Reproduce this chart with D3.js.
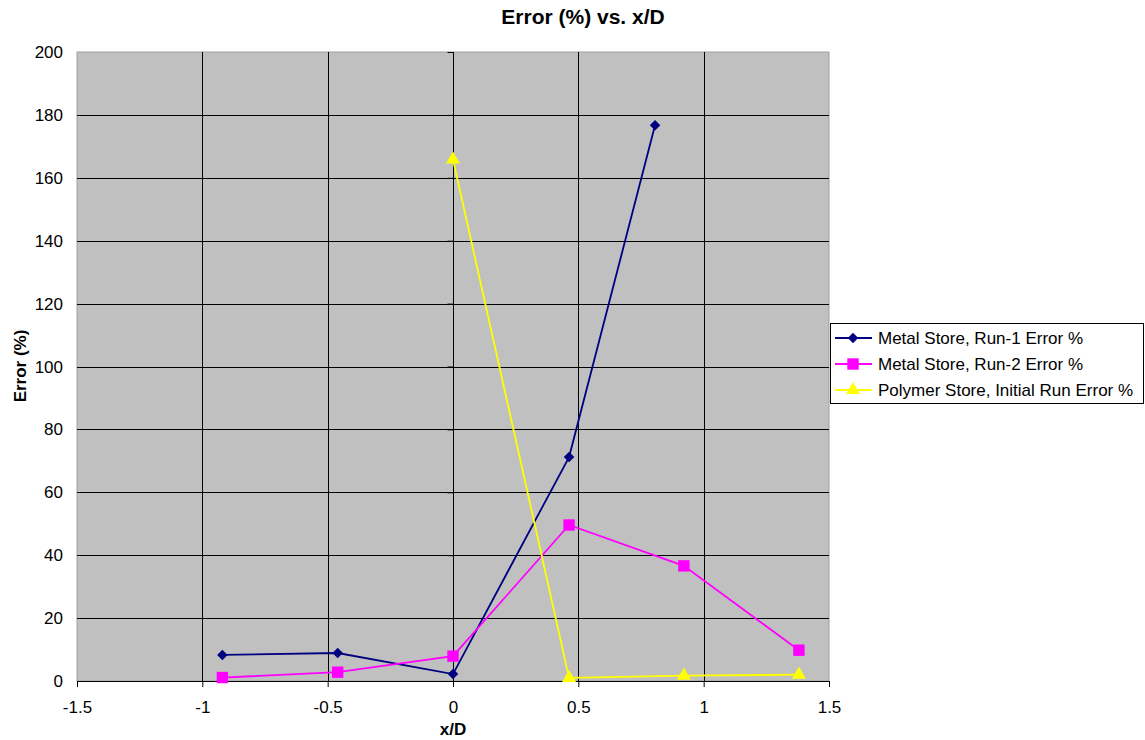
<!DOCTYPE html>
<html><head><meta charset="utf-8">
<script src="https://cdn.jsdelivr.net/npm/d3@7"></script>
<style>body{margin:0;background:#fff;} svg text{font-family:"Liberation Sans",Arial,sans-serif;}</style>
</head><body><svg id="c" width="1145" height="740"></svg>
<script>
const xTicks = [-1.5, -1, -0.5, 0, 0.5, 1, 1.5];
const yTicks = [0, 20, 40, 60, 80, 100, 120, 140, 160, 180, 200];
const run1X = [-0.92, -0.46, 0, 0.463, 0.806];
const run1Y = [8.3, 8.9, 2.2, 71.2, 176.7];
const run2X = [-0.92, -0.46, 0, 0.463, 0.921, 1.38];
const run2Y = [1.1, 2.8, 7.9, 49.6, 36.6, 9.8];
const polyX = [0, 0.463, 0.921, 1.38];
const polyY = [165.8, 1.0, 1.7, 2.0];
const seriesNames = ["Metal Store, Run-1 Error %", "Metal Store, Run-2 Error %", "Polymer Store, Initial Run Error %"];

const svg = d3.select("#c");
const L = 77, R = 829, T = 52, B = 681;
const x = d3.scaleLinear().domain([-1.5, 1.5]).range([L, R]);
const y = d3.scaleLinear().domain([0, 200]).range([B, T]);

svg.append("rect").attr("x", L).attr("y", T).attr("width", R - L).attr("height", B - T)
  .attr("fill", "#c0c0c0").attr("stroke", "#a0a0a0").attr("stroke-width", 1);

// gridlines
svg.append("g").selectAll("line").data(yTicks.filter(d => d > 0 && d < 200)).join("line")
  .attr("x1", L).attr("x2", R).attr("y1", d => Math.round(y(d)) + 0.5).attr("y2", d => Math.round(y(d)) + 0.5)
  .attr("stroke", "#000").attr("stroke-width", 1);
svg.append("g").selectAll("line").data(xTicks.filter(d => d > -1.5 && d < 1.5 && d !== 0)).join("line")
  .attr("y1", T).attr("y2", B).attr("x1", d => Math.round(x(d)) + 0.5).attr("x2", d => Math.round(x(d)) + 0.5)
  .attr("stroke", "#000").attr("stroke-width", 1);

// x axis at y=0
const xAxis = d3.axisBottom(x).tickValues(xTicks).tickSize(6).tickFormat(d => String(d));
const gx = svg.append("g").attr("transform", `translate(0,${B})`).call(xAxis);
gx.select(".domain").attr("stroke", "#000").attr("d", `M${L},0.5H${R}`);
gx.selectAll(".tick line").attr("stroke", "#000");
gx.selectAll("text").attr("font-size", 17).attr("font-family", "Liberation Sans, Arial, sans-serif")
  .attr("fill", "#000").attr("y", 32).attr("dy", null);

// y axis at x=0 (line + ticks), labels at left
const yAxis = d3.axisLeft(y).tickValues(yTicks).tickSize(6).tickFormat("");
const gy = svg.append("g").attr("transform", `translate(${Math.round(x(0)) + 0.5},0)`).call(yAxis);
gy.select(".domain").attr("stroke", "#000").attr("d", `M0,${T}V${B}`);
gy.selectAll(".tick line").attr("stroke", "#000");
svg.append("g").selectAll("text").data(yTicks).join("text")
  .attr("x", 63).attr("y", d => y(d) + 6).attr("text-anchor", "end")
  .attr("font-size", 17).attr("fill", "#000").text(d => d);

// titles
svg.append("text").attr("x", 583).attr("y", 24).attr("text-anchor", "middle")
  .attr("font-size", 21).attr("font-weight", "bold").text("Error (%) vs. x/D");
svg.append("text").attr("x", 453).attr("y", 735).attr("text-anchor", "middle")
  .attr("font-size", 17).attr("font-weight", "bold").text("x/D");
svg.append("text").attr("transform", "translate(26,366) rotate(-90)").attr("text-anchor", "middle")
  .attr("font-size", 17).attr("font-weight", "bold").text("Error (%)");

const diamond = {draw(ctx, size) { const r = Math.sqrt(size) / 2; ctx.moveTo(0, -r); ctx.lineTo(r, 0); ctx.lineTo(0, r); ctx.lineTo(-r, 0); ctx.closePath(); }};
const line = d3.line().x(d => x(d[0])).y(d => y(d[1]));
const series = [
  {xs: run1X, ys: run1Y, color: "#000080", sym: diamond, size: 110},
  {xs: run2X, ys: run2Y, color: "#ff00ff", sym: d3.symbolSquare, size: 130},
  {xs: polyX, ys: polyY, color: "#ffff00", sym: d3.symbolTriangle, size: 85}
];
series.forEach(s => {
  const pts = s.xs.map((v, i) => [v, s.ys[i]]);
  svg.append("path").datum(pts).attr("d", line).attr("fill", "none").attr("stroke", s.color).attr("stroke-width", 1.8);
  svg.append("g").selectAll("path").data(pts).join("path")
    .attr("transform", d => `translate(${x(d[0])},${y(d[1])})`)
    .attr("d", d3.symbol().type(s.sym).size(s.size)).attr("fill", s.color);
});

// legend
const lg = svg.append("g");
lg.append("rect").attr("x", 830.5).attr("y", 323.5).attr("width", 313).attr("height", 80)
  .attr("fill", "#fff").attr("stroke", "#000");
series.forEach((s, i) => {
  const yy = 338 + i * 26;
  lg.append("line").attr("x1", 835).attr("x2", 872).attr("y1", yy).attr("y2", yy).attr("stroke", s.color).attr("stroke-width", 1.8);
  lg.append("path").attr("transform", `translate(853,${yy})`).attr("d", d3.symbol().type(s.sym).size(s.size)).attr("fill", s.color);
  lg.append("text").attr("x", 878).attr("y", yy + 6).attr("font-size", 17).text(seriesNames[i]);
});
</script></body></html>
